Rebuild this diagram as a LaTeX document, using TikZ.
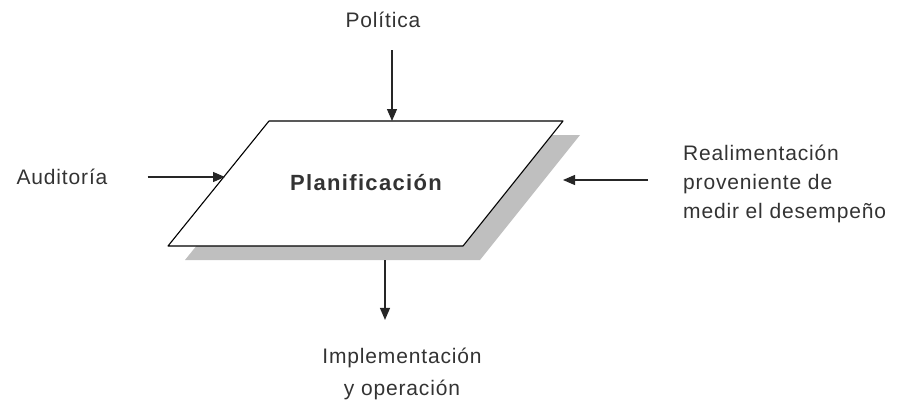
\documentclass[tikz,border=0pt]{standalone}
\usepackage{fontspec}
\setmainfont{Liberation Sans}
\usetikzlibrary{arrows.meta,positioning,calc}

\begin{document}
\begin{tikzpicture}[
    x=1pt,
    y=-1pt,
    line join=round,
    >={Triangle[length=12pt,width=10pt]},
    label/.style={
        inner sep=0pt,
        align=center,
        text=black!80,
        font=\fontsize{21}{29}\selectfont\addfontfeature{LetterSpace=4}
    },
    flow/.style={->,line width=1.2pt,black!85},
    sheet/.style={draw,line width=1.1pt,fill=white},
    shade/.style={fill=gray!50}
]
\useasboundingbox (0,0) rectangle (916,405);

% the planning sheet and its shadow
\coordinate (tl) at (269,121);
\coordinate (tr) at (563,121);
\coordinate (br) at (463,246);
\coordinate (bl) at (168,246);
\fill[shade] ($(tl)+(17,14)$) -- ($(tr)+(17,14)$) -- ($(br)+(17,14)$) -- ($(bl)+(17,14)$) -- cycle;
\draw[sheet] (tl) -- (tr) -- (br) -- (bl) -- cycle;
\node[label,font=\fontsize{22}{29}\selectfont\bfseries\addfontfeature{LetterSpace=6}] (plan) at (366,183) {Planificación};

\node[label] (politica) at (383,20) {Política};
\node[label] (auditoria) at (62,177) {Auditoría};
\node[label,anchor=west,align=left] (realim) at (683,184)
    {Realimentación\\ proveniente de\\ medir el desempeño};
\node[label,font=\fontsize{21}{32}\selectfont\addfontfeature{LetterSpace=4}] (impl) at (402,374)
    {Implementación\\ y operación};

\coordinate (politica in) at (392,121);
\coordinate (auditoria in) at (225,177);
\coordinate (realim in) at (563,180);
\coordinate (impl out) at (385,260);

\draw[flow,shorten <=22pt] (politica.south -| politica in) -- (politica in);
\draw[flow,shorten <=40pt] (auditoria.east) -- (auditoria in);
\draw[flow,shorten <=35pt] (realim.west |- realim in) -- (realim in);
\draw[flow,shorten >=28pt] (impl out) -- (impl out |- impl.north);

\end{tikzpicture}
\end{document}
